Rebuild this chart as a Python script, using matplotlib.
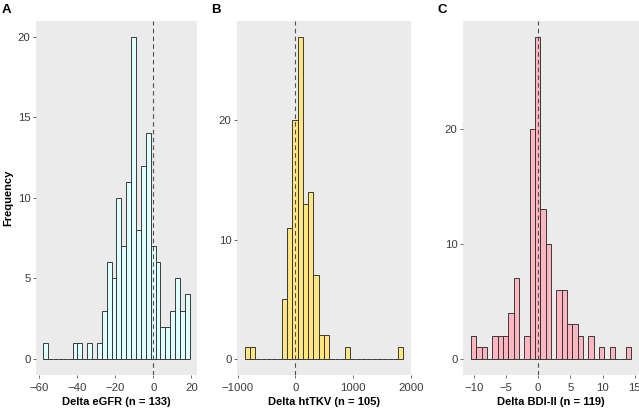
import matplotlib

matplotlib.use("Agg")
import matplotlib.pyplot as plt
import numpy as np

plt.rcParams["font.family"] = ["Liberation Sans", "DejaVu Sans"]

# histogram counts per bin (30 bins each)
egfr_counts = [1, 0, 0, 0, 0, 0, 1, 1, 0, 1, 0, 1, 3, 6, 5, 10, 7, 11, 20, 8,
               12, 14, 7, 6, 2, 2, 3, 5, 3, 4]
egfr_start, egfr_width = -57.8, 2.565

tkv_counts = [1, 1, 0, 0, 0, 0, 0, 5, 11, 20, 27, 13, 14, 7, 2, 2, 0, 0, 0, 1,
              0, 0, 0, 0, 0, 0, 0, 0, 0, 1]
tkv_start, tkv_width = -872.0, 91.3

bdi_counts = [2, 1, 1, 0, 2, 2, 2, 4, 7, 0, 2, 20, 28, 13, 10, 0, 6, 6, 3, 3,
              2, 0, 2, 0, 1, 0, 1, 0, 0, 1]
bdi_start, bdi_width = -10.41, 24 / 29

panels = [
    ("A", "Delta eGFR (n = 133)", egfr_counts, egfr_start, egfr_width, "#E0FFFF",
     [-60, -40, -20, 0, 20], [0, 5, 10, 15, 20]),
    ("B", "Delta htTKV (n = 105)", tkv_counts, tkv_start, tkv_width, "#FFE680",
     [-1000, 0, 1000, 2000], [0, 10, 20]),
    ("C", "Delta BDI-II (n = 119)", bdi_counts, bdi_start, bdi_width, "#FFB6C1",
     [-10, -5, 0, 5, 10, 15], [0, 10, 20]),
]

# axes boxes in pixels: left, right (figure is 639 x 411)
boxes = [(36, 197), (237, 411), (463, 639)]
W, H = 639, 411
top_px, bottom_px = 20.7, 375

fig = plt.figure(figsize=(W / 100, H / 100), dpi=100)

for (letter, xlabel, counts, start, width, color, xticks, yticks), (x0, x1) in zip(panels, boxes):
    ax = fig.add_axes([x0 / W, (H - bottom_px) / H, (x1 - x0) / W, (bottom_px - top_px) / H])
    ax.set_facecolor("#EBEBEB")
    counts = np.array(counts)
    lefts = start + width * np.arange(len(counts))
    ax.bar(lefts, counts, width=width, align="edge", color=color,
           edgecolor="#2E2E2E", linewidth=0.65)
    ax.axvline(0, color="#4D4D4D", linestyle=(0, (4, 3)), linewidth=0.8)

    lo, hi = lefts[0], lefts[-1] + width
    pad = 0.05 * (hi - lo)
    ax.set_xlim(lo - pad, hi + pad)
    ymax = counts.max()
    ax.set_ylim(-0.05 * ymax, 1.05 * ymax)

    ax.set_xticks(xticks)
    ax.set_yticks(yticks)
    for s in ax.spines.values():
        s.set_visible(False)
    ax.tick_params(length=2.5, width=0.5, color="#333333", labelcolor="#3A3A3A",
                   labelsize=8.2)
    ax.tick_params(axis="x", pad=3.5)
    ax.tick_params(axis="y", pad=1.5)
    ax.set_xlabel(xlabel, fontsize=8, fontweight="bold", labelpad=2.5)
    if letter == "A":
        ax.set_ylabel("Frequency", fontsize=8, fontweight="bold", labelpad=3)
    fig.text((x0 - 34) / W if letter == "A" else (x0 - 26) / W, 1 - 10 / H, letter,
             fontsize=9.5, fontweight="bold", va="center", ha="left")

fig.savefig("out.png", dpi=100)
